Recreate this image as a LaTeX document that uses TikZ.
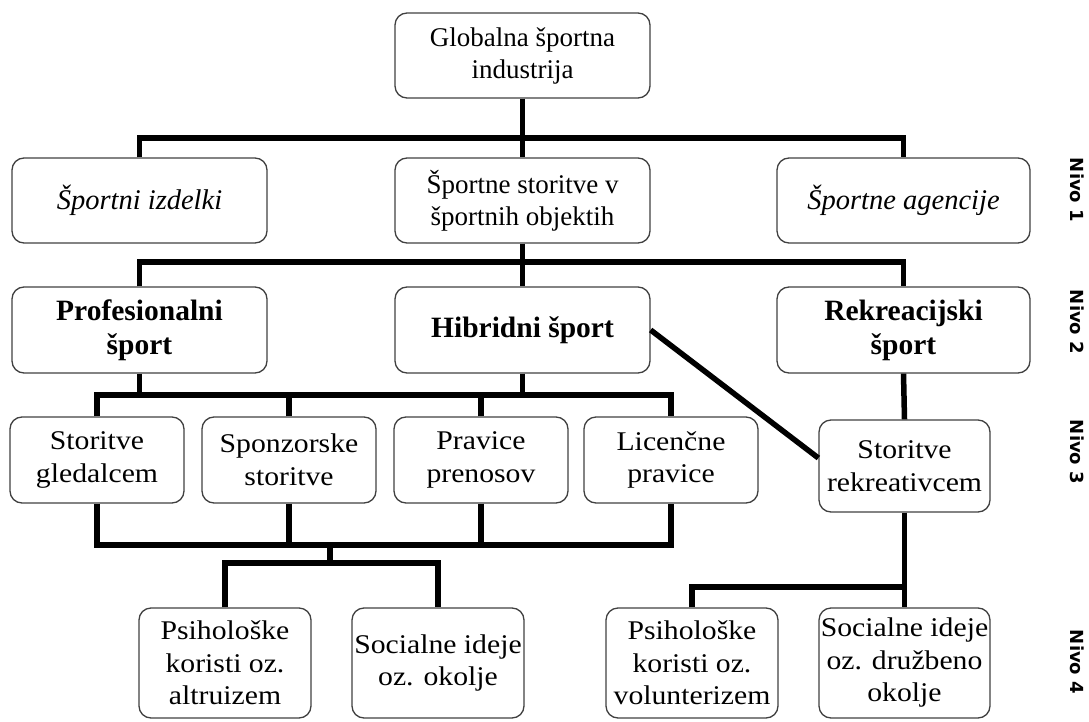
\documentclass[tikz,border=0pt]{standalone}
\usepackage{fontspec}
\setmainfont{Liberation Serif}
\newfontfamily\nivofont{DejaVu Sans}
\newfontfamily\widefont[FakeStretch=1.1]{Liberation Serif}
\usetikzlibrary{calc}
\begin{document}
\begin{tikzpicture}[x=1pt,y=-1pt,
  box/.style={draw=black!75, line width=1.3pt, rounded corners=12pt, align=center,
    inner sep=1pt, font=\fontsize{27}{32}\selectfont},
  topbox/.style={box, minimum width=255pt, minimum height=85pt},
  itbox/.style={box, minimum width=255pt, minimum height=85pt, font=\fontsize{28.5}{33}\selectfont\itshape},
  bfbox/.style={box, minimum width=255pt, minimum height=86pt, font=\fontsize{29.5}{34}\selectfont\bfseries},
  lowbox/.style={box, font=\widefont\fontsize{27}{32.5}\selectfont},
  conn/.style={line width=5.5pt, line join=miter, line cap=butt},
  nivo/.style={font=\nivofont\bfseries\fontsize{18}{20}\selectfont, rotate=-90}]
\useasboundingbox (0,0) rectangle (1089,722);
% top
\node[topbox] (glob) at (522.5,55.5) {Globalna športna\\industrija};
% level 1
\node[itbox] (l1a) at (139.5,200.5) {Športni izdelki};
\node[topbox] (l1b) at (522.5,200.5) {Športne storitve v\\športnih objektih};
\node[itbox, minimum width=253pt] (l1c) at (903.5,200.5) {Športne agencije};
% level 2
\node[bfbox] (l2a) at (139.5,330) {Profesionalni\\šport};
\node[bfbox] (l2b) at (522.5,330) {Hibridni šport};
\node[bfbox, minimum width=253pt] (l2c) at (903.5,330) {Rekreacijski\\šport};
% level 3
\node[lowbox, minimum width=174pt, minimum height=86pt] (l3a) at (97,460) {Storitve\\gledalcem};
\node[lowbox, minimum width=174pt, minimum height=86pt] (l3b) at (289,460) {Sponzorske\\storitve};
\node[lowbox, minimum width=174pt, minimum height=86pt] (l3c) at (481,460) {Pravice\\prenosov};
\node[lowbox, minimum width=174pt, minimum height=86pt] (l3d) at (671,460) {Licenčne\\pravice};
\node[lowbox, minimum width=171pt, minimum height=92pt] (l3e) at (904.5,466) {Storitve\\rekreativcem};
% level 4
\node[lowbox, minimum width=172pt, minimum height=110pt] (l4a) at (225,663) {Psihološke\\koristi oz.\\altruizem};
\node[lowbox, minimum width=172pt, minimum height=110pt] (l4b) at (438,663) {Socialne ideje\\oz. okolje};
\node[lowbox, minimum width=172pt, minimum height=110pt] (l4c) at (692,663) {Psihološke\\koristi oz.\\volunterizem};
\node[lowbox, minimum width=171pt, minimum height=110pt] (l4d) at (904.5,663) {Socialne ideje\\oz. družbeno\\okolje};
% level labels
\node[nivo] (n1) at (1077,190) {Nivo 1};
\node[nivo] (n2) at (1077,322) {Nivo 2};
\node[nivo] (n3) at (1077,452) {Nivo 3};
\node[nivo] (n4) at (1077,662) {Nivo 4};
% bus coordinates
\coordinate (b1) at (522.5,138);
\coordinate (b2) at (522.5,262);
\coordinate (b3) at (400,395);
\coordinate (b4) at (330,545);
\coordinate (b5) at (330,563);
\coordinate (b6) at (800,587);
% connectors
\draw[conn] (glob.south) -- (b1);
\draw[conn] (l1a.north) |- (b1) -| (l1c.north);
\draw[conn] (b1) -- (l1b.north);
\draw[conn] (l1b.south) -- (b2);
\draw[conn] (l2a.north) |- (b2) -| (l2c.north);
\draw[conn] (b2) -- (l2b.north);
\draw[conn] (l3a.north) |- (b3) -| (l3d.north);
\draw[conn] (l2a.south) -- (l2a.south |- b3);
\draw[conn] (l2b.south) -- (l2b.south |- b3);
\draw[conn] (l3b.north) -- (l3b.north |- b3);
\draw[conn] (l3c.north) -- (l3c.north |- b3);
\draw[conn] (l3a.south) |- (b4) -| (l3d.south);
\draw[conn] (l3b.south) -- (l3b.south |- b4);
\draw[conn] (l3c.south) -- (l3c.south |- b4);
\draw[conn] (b4) -- (b5);
\draw[conn] (l4a.north) |- (b5) -| (l4b.north);
\draw[conn] (l2c.south) -- (l3e.north);
\draw[conn] (l3e.south) -- (l4d.north);
\draw[conn] (l4c.north) |- (l4d.north |- b6);
\draw[conn] (l2b.east) -- ([yshift=8pt]l3e.west);
\end{tikzpicture}
\end{document}
